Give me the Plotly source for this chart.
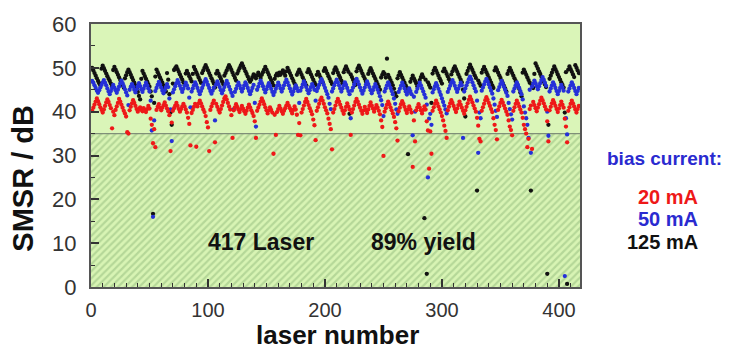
import plotly.graph_objects as go

laser = list(range(1, 418))

red_20mA = [
    40.2, 40.9, 41.6, 42.3, 43.0, 42.4, 41.7, 41.0, 40.4, 39.8,
    40.5, 41.3, 42.1, 42.8, 42.2, 41.5, 40.8, 36.2, 40.0, 39.2,
    40.4, 41.2, 42.0, 42.9, 42.3, 41.6, 40.9, 40.2, 39.6, 38.9,
    35.3, 35.0, 40.3, 41.1, 41.9, 42.6, 42.0, 41.3, 40.6, 40.0,
    40.6, 41.0, 40.5, 40.1, 40.8, 40.3, 39.9, 40.6, 41.3, 40.7,
    38.4, 37.0, 32.8, 36.0, 31.9, 40.4, 41.1, 41.7, 40.9, 40.3,
    40.9, 41.5, 42.1, 41.4, 40.7, 40.1, 39.2, 31.0, 37.5, 40.2,
    40.8, 41.4, 42.0, 41.3, 40.6, 40.0, 40.6, 41.2, 41.8, 41.2,
    40.5, 39.8, 38.6, 37.2, 32.3, 39.7, 40.4, 41.1, 41.8, 32.0,
    41.2, 41.9, 42.5, 41.9, 41.2, 40.5, 39.9, 39.0, 37.6, 36.4,
    31.0, 40.4, 41.2, 41.9, 42.5, 33.0, 41.8, 41.1, 40.4, 39.8,
    40.6, 41.4, 42.2, 43.0, 43.5, 42.8, 42.0, 41.2, 40.5, 39.2,
    34.0, 40.3, 41.0, 41.7, 41.1, 40.5, 39.9, 40.6, 41.3, 40.7,
    40.1, 39.5, 40.2, 40.9, 41.6, 41.0, 40.3, 39.7, 39.0, 37.8,
    34.0, 40.2, 40.9, 41.6, 42.3, 43.0, 42.4, 41.7, 41.0, 40.3,
    39.6, 40.3, 41.0, 40.4, 39.8, 30.4, 39.3, 34.7, 39.9, 40.6,
    41.3, 40.7, 40.1, 39.5, 40.2, 40.8, 41.4, 42.0, 41.4, 40.8,
    40.2, 39.6, 40.4, 41.2, 40.5, 39.3, 34.7, 37.4, 34.6, 39.8,
    40.6, 41.4, 42.2, 42.9, 42.2, 41.5, 40.8, 40.1, 39.4, 38.2,
    36.9, 33.5, 40.2, 41.0, 41.8, 42.6, 43.2, 42.5, 41.8, 41.0,
    40.3, 39.6, 38.4, 37.2, 36.0, 31.4, 39.8, 40.6, 41.4, 42.2,
    42.9, 42.3, 41.6, 40.9, 40.2, 39.5, 40.3, 41.1, 41.9, 41.2,
    40.5, 34.7, 39.8, 40.6, 41.4, 42.2, 42.9, 42.3, 41.6, 40.9,
    40.2, 39.5, 40.3, 41.1, 40.4, 39.7, 40.5, 41.3, 42.1, 41.4,
    40.7, 40.0, 40.8, 41.5, 40.9, 40.2, 39.4, 38.0, 36.5, 29.9,
    40.0, 40.8, 41.6, 42.3, 41.7, 41.0, 40.3, 39.6, 38.8, 37.6,
    36.2, 33.4, 40.1, 40.9, 41.7, 42.4, 41.8, 41.1, 40.4, 39.7,
    40.5, 41.2, 40.5, 39.8, 27.4, 38.0, 33.2, 40.3, 41.0, 41.7,
    41.0, 40.3, 39.6, 40.4, 41.2, 40.5, 37.8, 35.7, 27.0, 35.5,
    30.4, 40.2, 41.0, 41.8, 42.5, 41.9, 41.2, 40.5, 39.8, 39.0,
    38.0, 36.8, 35.6, 34.0, 40.3, 41.1, 41.9, 42.6, 42.0, 41.3,
    40.6, 39.9, 40.7, 41.5, 42.3, 41.6, 40.9, 40.2, 39.5, 40.3,
    41.1, 41.9, 42.7, 43.4, 42.8, 42.1, 41.4, 40.7, 40.0, 38.6,
    36.8, 33.8, 33.2, 40.2, 41.0, 41.8, 42.6, 43.3, 42.7, 42.0,
    41.3, 40.6, 39.9, 38.5, 37.0, 35.8, 33.7, 40.4, 41.2, 42.0,
    42.7, 42.1, 41.4, 40.7, 40.0, 39.3, 38.0, 36.6, 35.8, 34.6,
    40.2, 41.0, 41.8, 42.5, 41.9, 41.2, 40.5, 39.8, 38.6, 37.0,
    36.0, 35.0, 31.9, 33.8, 40.6, 41.4, 31.5, 42.2, 41.5, 40.8,
    40.1, 40.9, 41.7, 42.5, 43.2, 42.6, 41.9, 41.2, 40.5, 37.8,
    33.2, 40.3, 41.1, 41.9, 42.6, 42.0, 41.3, 40.6, 39.9, 40.7,
    41.5, 42.3, 41.6, 40.9, 38.4, 36.6, 33.0, 40.2, 41.0, 41.8,
    42.5, 41.9, 41.2, 40.5, 39.8, 40.6, 41.3,
]

blue_50mA = [
    47.0, 46.6, 46.0, 45.4, 44.8, 44.3, 44.9, 45.5, 46.1, 46.7,
    47.2, 46.6, 46.0, 45.3, 44.6, 44.0, 44.7, 45.4, 46.1, 45.5,
    44.9, 44.3, 45.0, 45.7, 46.4, 47.1, 46.5, 45.8, 45.1, 44.4,
    43.7, 41.5, 45.0, 45.7, 46.3, 45.7, 45.0, 44.4, 45.1, 45.8,
    46.5, 45.8, 45.1, 44.5, 45.2, 45.9, 46.6, 46.0, 45.3, 44.6,
    42.5, 35.7, 16.0, 38.0, 44.7, 45.4, 46.1, 46.8, 46.2, 45.5,
    44.8, 44.2, 44.9, 45.6, 46.3, 45.6, 43.0, 40.5, 33.3, 44.4,
    45.1, 45.8, 46.5, 47.2, 46.6, 45.9, 45.2, 44.5, 45.2, 45.9,
    46.6, 46.0, 45.3, 43.2, 41.0, 44.6, 45.3, 46.0, 46.7, 46.1,
    45.4, 44.7, 44.0, 44.7, 45.4, 46.1, 46.8, 47.4, 46.8, 46.1,
    45.4, 44.7, 44.1, 44.8, 45.5, 38.0, 46.2, 46.9, 46.3, 45.6,
    44.9, 44.2, 44.9, 45.6, 46.3, 47.0, 46.4, 45.7, 45.0, 44.3,
    43.6, 40.5, 44.5, 45.2, 45.9, 46.6, 46.0, 45.3, 44.6, 45.3,
    46.0, 46.7, 46.1, 45.4, 44.7, 44.0, 44.7, 45.4, 46.1, 42.0,
    36.6, 45.0, 45.7, 46.4, 47.1, 46.5, 45.8, 45.1, 44.4, 45.1,
    45.8, 46.5, 45.9, 45.2, 44.5, 43.8, 44.5, 45.2, 45.9, 46.6,
    46.0, 45.3, 44.6, 45.3, 46.0, 46.7, 47.3, 46.7, 46.0, 45.3,
    44.6, 43.9, 44.6, 45.3, 46.0, 45.4, 44.7, 42.0, 44.8, 45.5,
    46.2, 46.9, 46.3, 45.6, 44.9, 44.2, 44.9, 45.6, 46.3, 45.7,
    45.0, 42.5, 44.7, 45.4, 46.1, 46.8, 47.4, 46.8, 46.1, 45.4,
    44.7, 44.0, 43.2, 41.8, 40.6, 44.6, 45.3, 46.0, 46.7, 47.3,
    46.7, 46.0, 45.3, 44.6, 45.3, 46.0, 46.7, 46.1, 45.4, 44.7,
    44.0, 38.5, 44.8, 45.5, 46.2, 46.9, 47.5, 46.9, 46.2, 45.5,
    44.8, 44.1, 44.8, 45.5, 46.2, 46.9, 46.3, 45.6, 44.9, 44.2,
    44.9, 45.6, 46.3, 45.7, 45.0, 44.3, 43.5, 42.6, 41.5, 39.0,
    44.6, 45.3, 46.0, 46.7, 46.1, 45.4, 44.7, 44.0, 43.0, 41.8,
    40.5, 39.5, 44.5, 45.2, 45.9, 46.6, 46.0, 45.3, 44.6, 43.9,
    44.6, 45.3, 44.7, 44.0, 34.6, 43.4, 40.0, 44.5, 45.2, 45.9,
    46.6, 46.0, 45.3, 44.6, 43.9, 43.2, 41.6, 25.0, 38.4, 39.5,
    37.0, 44.4, 45.1, 45.8, 46.5, 45.9, 45.2, 44.5, 43.8, 43.0,
    42.2, 41.4, 40.5, 39.6, 44.5, 45.2, 45.9, 46.6, 47.2, 46.6,
    45.9, 45.2, 44.5, 45.2, 45.9, 46.6, 46.0, 34.0, 44.6, 45.3,
    46.0, 46.7, 47.4, 48.0, 47.4, 46.7, 46.0, 45.3, 44.6, 42.5,
    30.6, 39.8, 38.5, 44.8, 45.5, 46.2, 46.9, 47.5, 46.9, 46.2,
    45.5, 44.8, 44.1, 43.0, 41.6, 40.2, 38.8, 44.9, 45.6, 46.3,
    47.0, 46.4, 45.7, 45.0, 44.3, 43.6, 42.0, 40.6, 39.4, 38.2,
    44.6, 45.3, 46.0, 46.7, 46.1, 45.4, 44.7, 44.0, 42.8, 41.2,
    39.8, 38.5, 37.0, 34.0, 45.0, 30.6, 45.7, 46.4, 47.1, 46.5,
    45.8, 45.1, 45.8, 46.5, 47.2, 47.9, 47.3, 46.6, 45.9, 40.0,
    34.5, 44.6, 45.3, 46.0, 46.7, 46.1, 45.4, 44.7, 44.0, 44.7,
    45.4, 46.1, 45.5, 44.8, 2.5, 38.5, 34.8, 44.6, 45.3, 46.0,
    46.7, 46.1, 45.4, 44.7, 44.0, 44.7, 45.4,
]

black_125mA = [
    50.0, 49.4, 48.8, 48.2, 47.6, 47.0, 46.5, 46.0, 49.8, 50.5,
    49.9, 49.3, 48.7, 48.1, 47.5, 47.0, 46.4, 45.8, 49.5, 50.2,
    49.6, 49.0, 48.4, 47.8, 47.2, 46.6, 46.0, 45.5, 47.6, 48.3,
    49.0, 49.6, 49.0, 48.4, 47.8, 47.2, 46.6, 46.0, 45.3, 44.5,
    43.6, 42.8, 47.5, 49.3, 48.7, 48.1, 47.5, 46.9, 46.3, 45.7,
    44.6, 43.5, 16.7, 42.0, 48.0, 49.6, 49.0, 48.4, 47.8, 47.2,
    46.6, 46.0, 45.4, 44.6, 48.8, 47.3, 44.0, 39.8, 37.0, 46.4,
    49.5, 49.9, 50.3, 49.7, 49.1, 48.5, 47.9, 47.3, 46.7, 46.1,
    48.7, 49.3, 48.7, 48.1, 47.5, 46.9, 48.6, 50.2, 49.6, 49.0,
    48.4, 47.8, 47.2, 46.6, 48.8, 49.4, 50.0, 50.6, 50.0, 49.4,
    48.8, 48.2, 47.6, 47.0, 46.4, 45.5, 48.7, 49.3, 48.7, 48.1,
    47.5, 46.9, 46.3, 48.2, 48.8, 49.4, 50.0, 50.6, 50.1, 49.5,
    48.9, 48.3, 47.7, 47.1, 48.7, 49.3, 49.9, 50.5, 51.0, 50.4,
    49.8, 49.2, 48.6, 48.0, 47.4, 46.8, 47.3, 47.9, 48.5, 48.2,
    47.6, 48.3, 48.9, 48.3, 47.7, 48.4, 49.0, 49.6, 50.2, 49.6,
    49.0, 48.4, 47.8, 47.2, 46.6, 46.0, 47.5, 48.2, 48.7, 48.3,
    48.9, 48.4, 48.9, 49.4, 48.8, 48.2, 49.2, 50.0, 49.4, 48.8,
    48.2, 47.6, 47.0, 46.4, 45.8, 48.4, 49.0, 49.6, 49.0, 48.4,
    47.8, 47.2, 46.6, 46.0, 49.0, 49.7, 49.1, 48.5, 47.9, 47.3,
    46.7, 46.1, 48.4, 49.1, 48.5, 47.9, 47.3, 46.7, 49.3, 49.9,
    49.3, 48.7, 48.1, 47.5, 46.9, 46.3, 48.8, 49.5, 50.1, 49.5,
    48.9, 48.3, 47.7, 47.1, 46.5, 49.0, 49.7, 50.3, 49.7, 49.1,
    39.5, 48.5, 47.9, 47.3, 46.7, 46.1, 49.2, 49.9, 50.5, 49.9,
    49.3, 48.7, 48.1, 47.5, 46.9, 46.3, 48.6, 49.3, 49.9, 49.3,
    48.7, 48.1, 47.5, 46.9, 46.3, 45.7, 45.0, 47.8, 48.4, 49.0,
    48.6, 47.8, 52.1, 48.4, 47.8, 47.2, 46.6, 46.0, 45.2, 44.2,
    43.5, 47.6, 48.3, 49.0, 48.4, 47.8, 47.2, 46.6, 46.0, 45.4,
    30.3, 44.6, 46.8, 47.5, 48.2, 47.6, 47.0, 46.4, 45.8, 46.5,
    47.2, 47.9, 48.5, 47.9, 15.7, 47.3, 3.0, 46.7, 46.1, 45.5,
    42.0, 48.7, 49.4, 50.0, 49.4, 48.8, 48.2, 47.6, 47.0, 46.4,
    49.2, 49.8, 49.2, 48.6, 48.0, 47.4, 46.8, 48.5, 49.2, 49.8,
    50.3, 49.7, 49.1, 48.5, 47.9, 47.3, 46.7, 45.0, 43.0, 38.9,
    48.6, 49.3, 50.0, 50.7, 50.1, 49.5, 48.9, 48.3, 47.7, 22.0,
    47.1, 46.5, 45.9, 48.9, 49.6, 50.2, 49.6, 49.0, 48.4, 47.8,
    47.2, 46.6, 46.0, 45.4, 49.4, 50.1, 49.5, 48.9, 48.3, 47.7,
    47.1, 46.5, 45.9, 45.3, 44.6, 48.6, 49.3, 50.0, 49.4, 48.8,
    48.2, 47.6, 47.0, 46.4, 45.8, 45.2, 44.4, 43.5, 48.9, 49.6,
    49.0, 48.4, 47.8, 47.2, 46.6, 22.0, 46.0, 45.4, 48.6, 51.0,
    50.4, 49.8, 49.2, 48.6, 48.0, 47.4, 46.8, 46.2, 45.6, 3.0,
    37.0, 47.5, 48.2, 48.9, 49.6, 50.3, 49.7, 49.1, 48.5, 47.9,
    47.3, 46.7, 46.1, 45.5, 39.8, 49.0, 0.7, 49.6, 50.3, 49.7,
    49.1, 48.5, 47.9, 50.6, 50.0, 49.4, 48.8,
]

threshold_x = [0, 418]
threshold_y = [35, 35]

FONT = "Liberation Sans, Arial, sans-serif"

# plot-area geometry in pixels (used to place the free text in paper coords)
L, R, T, B = 91, 580, 20, 287
PW, PH = R - L, B - T


def px(x):
    return (x - L) / PW


def py(y):
    return (B - y) / PH


fig = go.Figure()

# hatched "fail" region below the 35 dB threshold
fig.add_trace(go.Scatter(
    x=threshold_x, y=threshold_y, mode="lines",
    line=dict(color="#7f8f78", width=1.2),
    fill="tozeroy", fillcolor="rgba(0,0,0,0)",
    fillpattern=dict(shape="/", fgcolor="#92bb7c", bgcolor="#d8f4b4",
                     size=5, solidity=0.45),
    hoverinfo="skip", showlegend=False,
))

for yvals, col in [(black_125mA, "#111111"), (blue_50mA, "#2530d8"), (red_20mA, "#ee1818")]:
    fig.add_trace(go.Scatter(
        x=laser, y=yvals, mode="markers",
        marker=dict(size=4.3, color=col, line=dict(width=0)),
        showlegend=False,
    ))

fig.update_layout(
    width=743, height=351,
    margin=dict(l=L, r=743 - R, t=T, b=351 - B),
    paper_bgcolor="white",
    plot_bgcolor="#daf5b8",
    font=dict(family=FONT, color="#222"),
)

fig.update_xaxes(
    range=[0, 418], tickvals=[0, 100, 200, 300, 400],
    ticks="inside", ticklen=8, tickwidth=1.5, tickcolor="#333",
    minor=dict(dtick=10, tick0=0, ticks="inside", ticklen=4, tickcolor="#333", tickwidth=1.2),
    showgrid=False, zeroline=False,
    showline=True, linecolor="#555", linewidth=2, mirror=True,
    tickfont=dict(size=20, color="#333", family=FONT),
    ticklabelstandoff=4,
)
fig.update_yaxes(
    range=[0, 60], tickvals=[0, 10, 20, 30, 40, 50, 60],
    ticks="inside", ticklen=8, tickwidth=1.5, tickcolor="#333",
    minor=dict(dtick=5, tick0=0, ticks="inside", ticklen=4, tickcolor="#333", tickwidth=1.2),
    showgrid=False, zeroline=False,
    showline=True, linecolor="#555", linewidth=2, mirror=True,
    tickfont=dict(size=22, color="#333", family=FONT),
    ticklabelstandoff=8,
)

# axis titles
fig.add_annotation(x=px(337), y=py(336), xref="paper", yref="paper",
                   xanchor="center", yanchor="middle", showarrow=False,
                   text="<b>laser number</b>",
                   font=dict(size=26, color="#111", family=FONT))
fig.add_annotation(x=px(23), y=py(177), xref="paper", yref="paper",
                   xanchor="center", yanchor="middle", showarrow=False,
                   textangle=-90, text="<b>SMSR / dB</b>",
                   font=dict(size=29, color="#111", family=FONT))

fig.add_annotation(x=145, y=10.3, xref="x", yref="y", text="<b>417 Laser</b>",
                   showarrow=False, font=dict(size=23, color="#111", family=FONT))
fig.add_annotation(x=284, y=10.3, xref="x", yref="y", text="<b>89% yield</b>",
                   showarrow=False, font=dict(size=23, color="#111", family=FONT))

fig.add_annotation(x=px(664), y=py(157), xref="paper", yref="paper",
                   xanchor="center", yanchor="middle", showarrow=False,
                   text="<b>bias current:</b>",
                   font=dict(size=19, color="#2a2ad0", family=FONT))
legend_items = [("20 mA", "#ee1818", 196),
                ("50 mA", "#2a2ad0", 218),
                ("125 mA", "#111111", 241)]
for txt, col, ypx in legend_items:
    fig.add_annotation(x=px(700), y=py(ypx), xref="paper", yref="paper",
                       xanchor="right", yanchor="middle",
                       text=f"<b>{txt}</b>", showarrow=False,
                       font=dict(size=20, color=col, family=FONT))

fig.write_html("out.html")
